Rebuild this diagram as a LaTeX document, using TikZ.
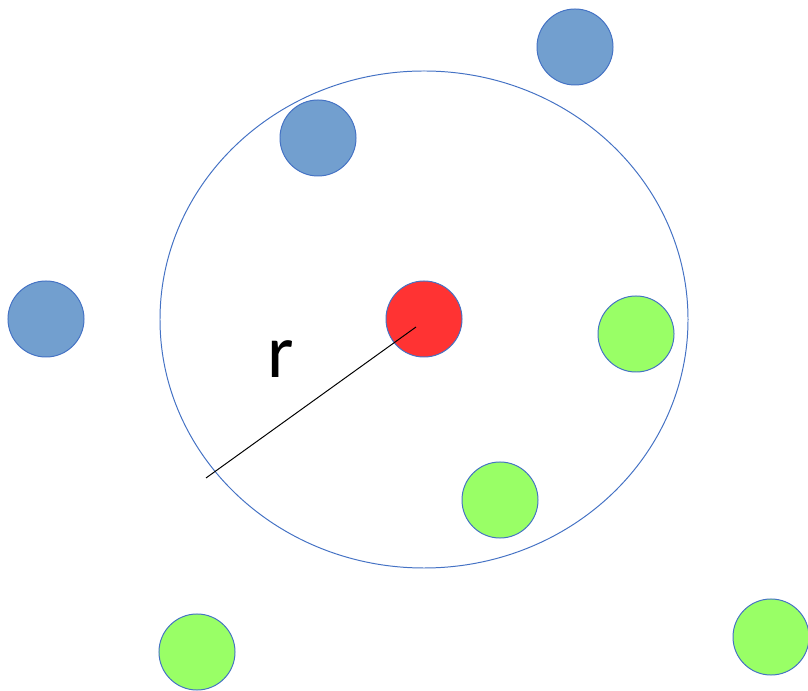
\documentclass[tikz,border=0pt]{standalone}
\usepackage{fontspec}
\setmainfont{Carlito}
\definecolor{ballblue}{RGB}{114,159,207}
\definecolor{ballred}{RGB}{255,51,51}
\definecolor{ballgreen}{RGB}{153,255,102}
\definecolor{rimblue}{RGB}{68,114,196}
\tikzset{
  ball/.style={circle, draw=rimblue, line width=0.7pt, minimum size=1.9cm, inner sep=0pt},
  blueball/.style={ball, fill=ballblue},
  redball/.style={ball, fill=ballred},
  greenball/.style={ball, fill=ballgreen}
}
\begin{document}
\begin{tikzpicture}[x=0.025cm, y=0.025cm]
        \useasboundingbox (0,0) rectangle (808,690);
        \draw [draw=rimblue, line width=0.7pt] (424,370.5) ellipse [x radius=264, y radius=248.5];
        \node [blueball] (b1) at (575,643) {};
        \node [blueball] (b2) at (318,552) {};
        \node [blueball] (b3) at (46,371) {};
        \node [redball] (q) at (424,371) {};
        \node [greenball] (g1) at (636,356) {};
        \node [greenball] (g2) at (500,190) {};
        \node [greenball] (g3) at (197,38) {};
        \node [greenball] (g4) at (771,53) {};
        \coordinate (rc) at (416,363);
        \coordinate (re) at (206,212);
        \draw [draw=black, line width=0.7pt] (rc) -- (re);
        \node (rlabel) at (281,331) {\fontsize{54}{58}\selectfont r};
    \end{tikzpicture}
\end{document}
